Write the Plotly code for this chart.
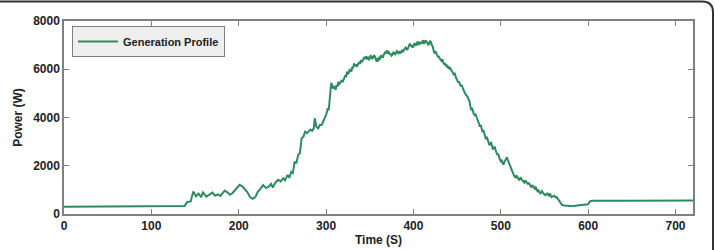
import plotly.graph_objects as go

# Data (time in s, power in W)
time_s = [
    0, 130, 135, 138, 141, 145, 148, 151, 154, 157, 159, 161, 163, 166, 168, 170, 173, 176, 179, 182,
    184, 187, 190, 193, 196, 199, 201, 204, 207, 210, 213, 216, 219, 222, 225, 228, 231, 234, 237, 239,
    242, 245, 248, 251, 253, 256, 258, 260, 262, 264, 266, 268, 270, 272, 274, 276, 278, 280, 282, 284,
    286, 287, 289, 291, 293, 295, 297, 299,
    300, 301, 302, 303, 304, 305, 306, 307, 308, 309, 310, 311, 312, 313, 314, 315, 316, 317, 318, 319,
    320, 321, 322, 323, 324, 325, 326, 327, 328, 329, 330, 331, 332, 333, 334, 335, 336, 337, 338, 339,
    340, 341, 342, 343, 344, 345, 346, 347, 348, 349, 350, 351, 352, 353, 354, 355, 356, 357, 358, 359,
    360, 361, 362, 363, 364, 365, 366, 367, 368, 369, 370, 371, 372, 373, 374, 375, 376, 377, 378, 379,
    380, 381, 382, 383, 384, 385, 386, 387, 388, 389, 390, 391, 392, 393, 394, 395, 396, 397, 398, 399,
    400, 401, 402, 403, 404, 405, 406, 407, 408, 409, 410, 411, 412, 413, 414, 415, 416, 417, 418, 419,
    420, 421, 422, 423, 424, 425, 426, 427, 428, 429, 430, 431, 432, 433, 434, 435, 436, 437, 438, 439,
    440, 441, 442, 443, 444, 445, 446, 447, 448, 449, 450, 451, 452, 453, 454, 455, 456, 457, 458, 459,
    460, 461, 462, 463, 464, 465, 466, 467, 468, 469, 470, 471, 472, 473, 474, 475, 476, 477, 478, 479,
    480, 481, 482, 483, 484, 485, 486, 487, 488, 489, 490, 491, 492, 493, 494, 495, 496, 497, 498, 499,
    500, 501, 502, 503, 504, 505, 506, 507, 508, 509, 510, 511, 512, 513, 514, 515, 516, 517, 518, 519,
    520, 521, 522, 523, 524, 525, 526, 527, 528, 529, 530, 531, 532, 533, 534, 535, 536, 537, 538, 539,
    540, 541, 542, 543, 544, 545, 546, 547, 548, 549, 550, 551, 552, 553, 554, 555, 556, 557, 558, 559,
    560, 561, 562, 563, 564, 565,
    566, 568, 570, 572, 575, 580, 585, 590, 595, 598, 600, 602, 605, 640, 680, 720,
]
power_w = [
    300, 300, 330, 330, 500, 520, 930, 730, 850, 700, 890, 800, 720, 790, 850, 890, 760, 810, 750, 900,
    970, 900, 800, 870, 1000, 1100, 1210, 1150, 1030, 900, 700, 630, 700, 930, 1050, 1200, 1080, 1120, 1250, 1100,
    1300, 1420, 1350, 1480, 1400, 1620, 1500, 1750, 1700, 2170, 2100, 2450, 2520, 3140, 3200, 3410, 3350, 3420, 3500, 3450,
    3560, 3970, 3620, 3550, 3700, 3690, 3900, 4030,
    4100, 4250, 4380, 4300, 4860, 5100, 5440, 5250, 5200, 5300, 5210, 5150, 5350, 5280, 5480, 5380, 5420, 5500, 5550, 5470,
    5560, 5650, 5750, 5680, 5900, 5800, 5850, 5980, 5970, 5900, 6100, 6050, 6240, 6150, 6200, 6100, 6170, 6280, 6300, 6220,
    6380, 6300, 6350, 6450, 6510, 6420, 6540, 6450, 6480, 6380, 6450, 6550, 6520, 6420, 6500, 6580, 6520, 6400, 6310, 6420,
    6380, 6480, 6450, 6580, 6550, 6480, 6600, 6680, 6720, 6650, 6790, 6680, 6700, 6600, 6650, 6560, 6600, 6700, 6680, 6600,
    6650, 6750, 6700, 6640, 6750, 6680, 6700, 6800, 6720, 6780, 6800, 6900, 6850, 6800, 6900, 6980, 7070, 6950, 7000, 6900,
    6950, 7080, 7050, 6980, 7100, 7150, 7000, 7120, 7135, 7050, 7100, 7200, 7050, 7150, 7200, 7120, 7100, 7000, 7050, 7180,
    7135, 7000, 6950, 6800, 6655, 6750, 6700, 6600, 6500, 6550, 6450, 6400, 6350, 6420, 6310, 6200, 6250, 6150, 6170, 6080,
    6100, 6000, 6050, 5980, 5950, 5850, 5800, 5850, 5700, 5620, 5560, 5450, 5500, 5350, 5300, 5350, 5250, 5150, 5100, 5000,
    4950, 4900, 4860, 4750, 4700, 4500, 4310, 4400, 4240, 4150, 4100, 4150, 4040, 3950, 3900, 3750, 3620, 3700, 3550, 3400,
    3480, 3300, 3140, 3100, 3200, 3050, 3000, 2850, 2930, 2950, 2800, 2700, 2730, 2800, 2650, 2550, 2450, 2500, 2350, 2250,
    2200, 2250, 2110, 2050, 2150, 2200, 2300, 2350, 2245, 2150, 2050, 1900, 1800, 1750, 1650, 1600, 1550, 1500, 1600, 1520,
    1450, 1400, 1480, 1500, 1420, 1380, 1350, 1300, 1400, 1350, 1280, 1230, 1300, 1250, 1150, 1100, 1200, 1150, 1075, 1050,
    1100, 1000, 950, 980, 920, 850, 870, 950, 900, 820, 800, 780, 830, 850, 800, 760, 850, 800, 700, 720,
    730, 760, 720, 680, 700, 650,
    590, 500, 380, 350, 340, 330, 340, 350, 360, 380, 400, 520, 550, 550, 555, 560,
]

x_ticks = [0, 100, 200, 300, 400, 500, 600, 700]
y_ticks = [0, 2000, 4000, 6000, 8000]

W, H = 715, 250
L, R, T, B = 64, 22, 21, 36
pw, ph = W - L - R, H - T - B


def px(x):
    return (x - L) / pw


def py(y):
    return (H - B - y) / ph


FONT = "Liberation Sans, Arial"

fig = go.Figure()
fig.add_trace(go.Scatter(
    x=time_s, y=power_w, mode="lines", name="Generation Profile",
    line=dict(color="#2e8b5f", width=2),
))

axis_common = dict(
    showgrid=False, zeroline=False, showline=True, linecolor="#808080", linewidth=1.5,
    mirror="ticks", ticks="inside", ticklen=5, tickcolor="#808080", tickwidth=1,
    automargin=False,
    tickfont=dict(family=FONT, size=12, color="#222222", weight="bold"),
)

fig.update_layout(
    width=W, height=H,
    margin=dict(l=L, r=R, t=T, b=B),
    paper_bgcolor="white", plot_bgcolor="white",
    showlegend=True,
    legend=dict(
        x=px(72), y=py(26), xanchor="left", yanchor="top",
        bgcolor="#efefef", bordercolor="#7f7f7f", borderwidth=1,
        font=dict(family=FONT, size=11, color="#222222", weight="bold"),
        itemwidth=40,
    ),
    xaxis=dict(
        range=[0, 720], tickvals=x_ticks, ticktext=[str(v) for v in x_ticks],
        title=dict(text="Time (S)", standoff=3,
                   font=dict(family=FONT, size=12, color="#222222", weight="bold")),
        **axis_common,
    ),
    yaxis=dict(
        range=[0, 8000], tickvals=y_ticks, ticktext=[str(v) for v in y_ticks],
        title=dict(text="Power (W)", standoff=8,
                   font=dict(family=FONT, size=12, color="#222222", weight="bold")),
        **axis_common,
    ),
    shapes=[dict(
        type="path", xref="paper", yref="paper",
        path=(f"M {px(0)},{py(1.5)} L {px(702)},{py(1.5)} "
              f"Q {px(713)},{py(1.5)} {px(713)},{py(12)} L {px(713)},{py(250)}"),
        line=dict(color="#333333", width=2),
    )],
)

fig.write_html("out.html")
